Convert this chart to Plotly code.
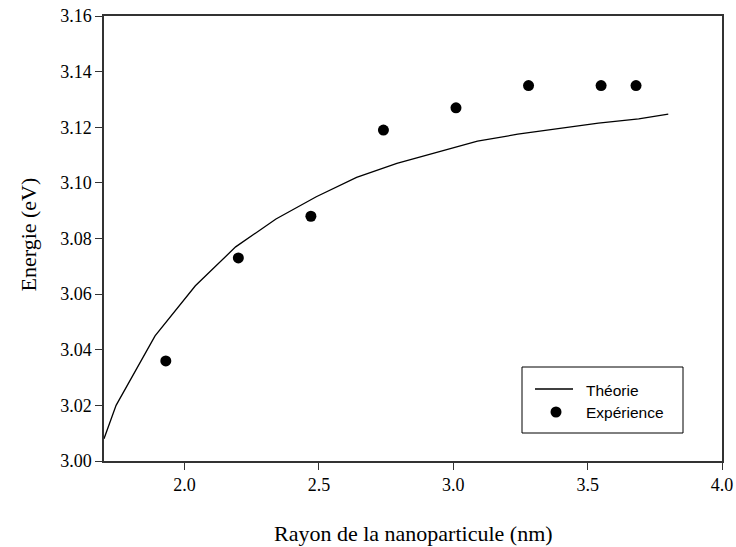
import plotly.graph_objects as go

# Theoretical curve (nm, eV)
theory_r = [1.70, 1.745, 1.89, 2.04, 2.19, 2.34, 2.49, 2.64, 2.79, 2.94, 3.09, 3.24, 3.39, 3.54, 3.69, 3.80]
theory_e = [3.008, 3.020, 3.045, 3.063, 3.077, 3.087, 3.095, 3.102, 3.107, 3.111, 3.115, 3.1175, 3.1195, 3.1215, 3.123, 3.1247]

# Measured points (nm, eV)
exp_r = [1.93, 2.20, 2.47, 2.74, 3.01, 3.28, 3.55, 3.68]
exp_e = [3.036, 3.073, 3.088, 3.119, 3.127, 3.135, 3.135, 3.135]

x_ticks = [2.0, 2.5, 3.0, 3.5, 4.0]
y_ticks = [3.00, 3.02, 3.04, 3.06, 3.08, 3.10, 3.12, 3.14, 3.16]

legend_labels = ["Théorie", "Expérience"]

serif = "Liberation Serif, Times New Roman, serif"
sans = "Liberation Sans, Arial, sans-serif"

W, H = 736, 547
ML, MR, MT, MB = 104, 14, 16, 86
PW, PH = W - ML - MR, H - MT - MB


def px(x):
    """Horizontal pixel -> paper fraction."""
    return (x - ML) / PW


def py(y):
    """Vertical pixel -> paper fraction."""
    return (H - MB - y) / PH


fig = go.Figure()
fig.add_trace(go.Scatter(x=theory_r, y=theory_e, mode="lines", name=legend_labels[0],
                         line=dict(color="black", width=1.3)))
fig.add_trace(go.Scatter(x=exp_r, y=exp_e, mode="markers", name=legend_labels[1],
                         marker=dict(color="black", size=11)))

axis_common = dict(showgrid=False, zeroline=False, showline=True, linecolor="#333",
                   linewidth=1.5, mirror=True, ticks="outside", ticklen=7,
                   tickcolor="#333", tickwidth=1.3, automargin=False,
                   tickfont=dict(family=serif, size=18, color="black"))

# Boxed key in the lower right corner
shapes = [
    dict(type="rect", xref="paper", yref="paper",
         x0=px(522), x1=px(683), y0=py(433), y1=py(367),
         line=dict(color="black", width=1), fillcolor="white", layer="above"),
    dict(type="line", xref="paper", yref="paper",
         x0=px(535), x1=px(573), y0=py(389), y1=py(389),
         line=dict(color="black", width=1.3), layer="above"),
    dict(type="circle", xref="paper", yref="paper",
         x0=px(550.5), x1=px(561.5), y0=py(417.5), y1=py(406.5),
         line=dict(color="black", width=0), fillcolor="black", layer="above"),
]

annotations = [
    dict(text="Rayon de la nanoparticule (nm)", xref="paper", yref="paper",
         x=0.5, y=py(533), showarrow=False, xanchor="center", yanchor="middle",
         font=dict(family=serif, size=22, color="black")),
    dict(text="Energie (eV)", xref="paper", yref="paper", textangle=-90,
         x=px(28), y=py(234.5), showarrow=False, xanchor="center", yanchor="middle",
         font=dict(family=serif, size=22, color="black")),
    dict(text=legend_labels[0], xref="paper", yref="paper",
         x=px(584), y=py(390), showarrow=False, xanchor="left", yanchor="middle",
         font=dict(family=sans, size=15.5, color="black")),
    dict(text=legend_labels[1], xref="paper", yref="paper",
         x=px(584), y=py(412), showarrow=False, xanchor="left", yanchor="middle",
         font=dict(family=sans, size=15.5, color="black")),
]

fig.update_layout(
    width=W, height=H,
    margin=dict(l=ML, r=MR, t=MT, b=MB),
    paper_bgcolor="white", plot_bgcolor="white",
    xaxis=dict(range=[1.7, 4.0], tickvals=x_ticks, tickformat=".1f", **axis_common),
    yaxis=dict(range=[3.0, 3.16], tickvals=y_ticks, tickformat=".2f", **axis_common),
    showlegend=False,
    shapes=shapes,
    annotations=annotations,
)

fig.write_html("out.html")
